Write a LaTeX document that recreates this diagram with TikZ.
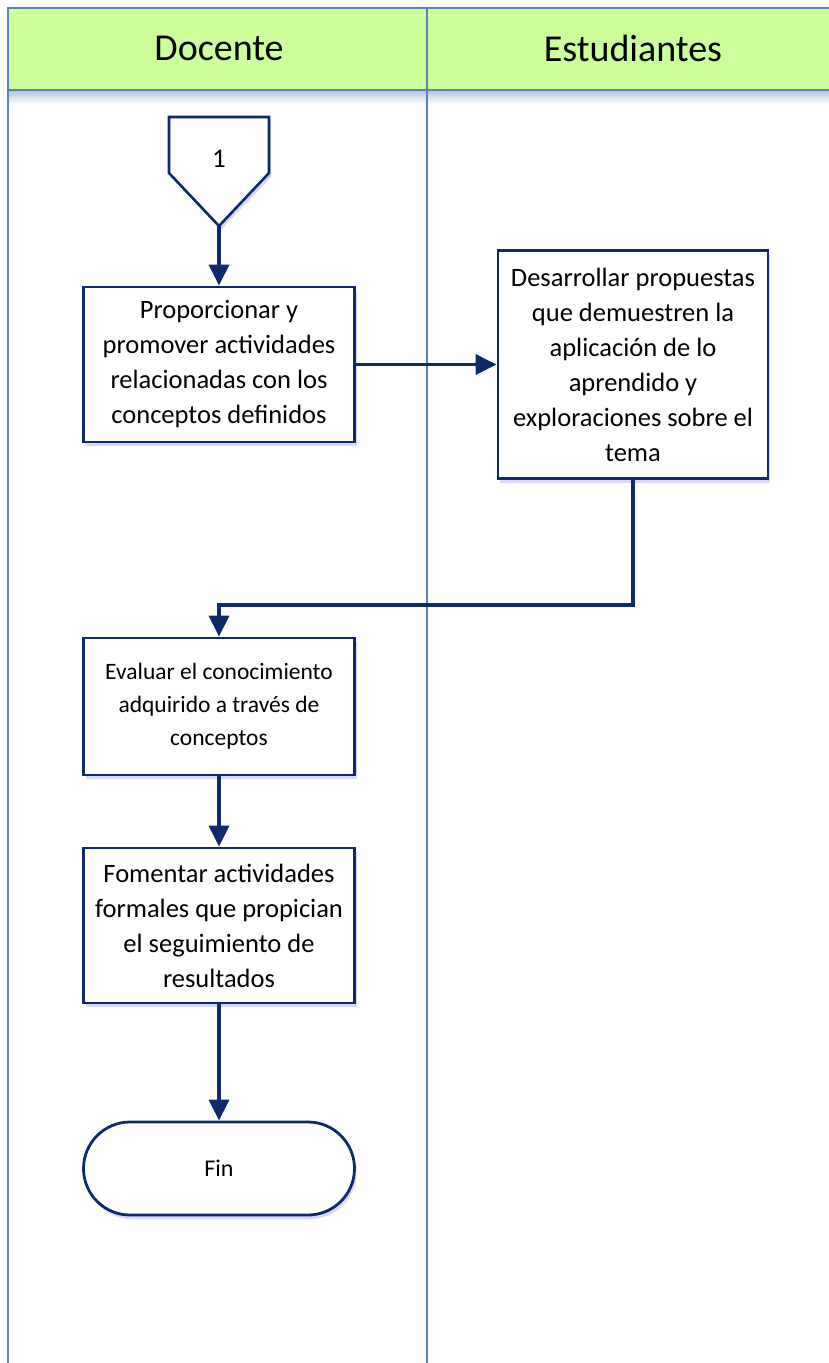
\documentclass[tikz,border=0pt]{standalone}
\usepackage{fontspec}
\setmainfont{Carlito}
\usetikzlibrary{shapes.misc,shadows,arrows.meta}
\definecolor{navy}{HTML}{0E2A6A}
\definecolor{lanec}{HTML}{5B83B8}
\definecolor{hdr}{HTML}{CCFF99}
\begin{document}
\begin{tikzpicture}[x=1pt,y=-1pt,
  shad/.style={drop shadow={fill=blue!45!white, opacity=0.35, shadow xshift=2pt, shadow yshift=-4pt}},
  boxs/.style={draw=navy, line width=2.8pt, fill=white, align=center, inner sep=0pt,
    minimum width=271pt, shad},
  flow/.style={draw=navy, line width=3.3pt, -{Triangle[length=21pt,width=20pt]}},
  hdrtext/.style={font=\fontsize{38}{40}\selectfont},
  btext/.style={font=\fontsize{26.5}{35}\selectfont},
  stext/.style={font=\fontsize{23.5}{33}\selectfont}]
\useasboundingbox (0,0) rectangle (828,1363);
% lanes
\fill[hdr] (8,8) rectangle (846,90);
\shade[top color=lanec!45, bottom color=white] (8,91) rectangle (846,104);
\draw[lanec, line width=2pt] (846,8) -- (8,8) -- (8,1370);
\draw[lanec, line width=2pt] (8,90) -- (846,90);
\draw[lanec, line width=2pt] (427,8) -- (427,1370);
\node[hdrtext] (h1) at (219,48) {Docente};
\node[hdrtext] (h2) at (633,48) {Estudiantes};
% off-page connector
\draw[navy, line width=2.6pt, fill=white, shad]
  (169,117) -- (269,117) -- (269,173) -- (219,226) -- (169,173) -- cycle;
\node[font=\fontsize{27}{30}\selectfont] (c1) at (219,159) {1};
\coordinate (c1b) at (219,226);
% boxes
\node[boxs, btext, minimum height=155pt] (b1) at (219,364.5)
  {Proporcionar y\\promover actividades\\relacionadas con los\\conceptos definidos};
\node[boxs, btext, minimum width=270pt, minimum height=228pt] (b2) at (633,364.5)
  {Desarrollar propuestas\\que demuestren la\\aplicación de lo\\aprendido y\\exploraciones sobre el\\tema};
\node[boxs, stext, minimum height=137pt] (b3) at (219,706.5)
  {Evaluar el conocimiento\\adquirido a través de\\conceptos};
\node[boxs, btext, minimum height=155pt] (b4) at (219,925.5)
  {Fomentar actividades\\formales que propician\\el seguimiento de\\resultados};
\node[boxs, rounded rectangle, font=\fontsize{24}{28}\selectfont, minimum height=93pt] (fin) at (219,1168.5) {Fin};
% connectors
\draw[flow] (c1b) -- (b1.north);
\draw[flow] (b1.east) -- (b2.west);
\draw[flow] (b2.south) -- ++(0,125) -| (b3.north);
\draw[flow] (b3.south) -- (b4.north);
\draw[flow] (b4.south) -- (fin.north);
\end{tikzpicture}
\end{document}
